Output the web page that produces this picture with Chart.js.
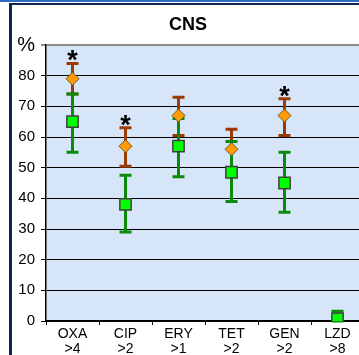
<!DOCTYPE html>
<html>
<head>
<meta charset="utf-8">
<script src="https://cdn.jsdelivr.net/npm/chart.js@4.4.1/dist/chart.umd.min.js"></script>
<style>
  html, body { margin: 0; padding: 0; width: 359px; height: 355px; overflow: hidden; background: #fff; }
  #frame { position: absolute; left: 0; top: 0; width: 359px; height: 355px; overflow: hidden; }
  #topBlue { position: absolute; left: 0; top: 0; width: 359px; height: 2px; background: #2f6cc0; }
  #topDark { position: absolute; left: 9px; top: 3px; width: 350px; height: 2px; background: #0d2450; }
  #leftDark { position: absolute; left: 9px; top: 3px; width: 3px; height: 352px; background: #0d2450; }
  #wrap { position: absolute; left: 12px; top: 5px; width: 352px; height: 350px; }
</style>
</head>
<body>
<div id="frame">
  <div id="topBlue"></div>
  <div id="topDark"></div>
  <div id="leftDark"></div>
  <div id="wrap"><canvas id="chart" width="352" height="350"></canvas></div>
</div>
<script>
// categories (antibiotic + breakpoint)
const categories = [['OXA', '>4'], ['CIP', '>2'], ['ERY', '>1'], ['TET', '>2'], ['GEN', '>2'], ['LZD', '>8']];

// orange diamonds with brown error bars
const orangeValues = [79, 57, 67, 56, 67, null];
const orangeLower = [74, 50.5, 60.5, 50, 60.5, null];
const orangeUpper = [84, 63, 73, 62.5, 72.5, null];

// green squares with green error bars
const greenValues = [65, 38, 57, 48.5, 45, 0.8];
const greenLower = [55, 29, 47, 39, 35.5, 0];
const greenUpper = [74, 47.5, 66, 58.5, 55, 3.2];

// asterisk above the orange bar
const significant = [true, true, false, false, true, false];

// y axis
const yMin = 0, yMax = 90, yStep = 10;
const yTopLabel = '%';

const FONT = "'Liberation Sans', Arial, sans-serif";

const plotBackground = {
  id: 'plotBackground',
  beforeDraw(chart) {
    const { ctx, chartArea: a } = chart;
    ctx.save();
    ctx.fillStyle = '#d6e5f8';
    ctx.fillRect(a.left, a.top, a.right - a.left, a.bottom - a.top);
    ctx.restore();
  }
};

const errorBars = {
  id: 'errorBars',
  beforeDatasetsDraw(chart) {
    const { ctx } = chart;
    const yScale = chart.scales.y;
    // orange first, green drawn over it
    [0, 1].forEach(idx => {
      const ds = chart.data.datasets[idx];
      const meta = chart.getDatasetMeta(idx);
      ctx.save();
      ctx.strokeStyle = ds.errorColor;
      ctx.lineWidth = 3;
      meta.data.forEach((pt, i) => {
        if (ds.errorLow[i] == null) return;
        const x = pt.x;
        const y1 = yScale.getPixelForValue(ds.errorLow[i]);
        const y2 = yScale.getPixelForValue(ds.errorHigh[i]);
        ctx.beginPath();
        ctx.moveTo(x, y1); ctx.lineTo(x, y2);
        ctx.moveTo(x - 6, y1); ctx.lineTo(x + 6, y1);
        ctx.moveTo(x - 6, y2); ctx.lineTo(x + 6, y2);
        ctx.stroke();
      });
      ctx.restore();
    });
  },
  afterDatasetsDraw(chart) {
    const { ctx } = chart;
    const yScale = chart.scales.y;
    const meta = chart.getDatasetMeta(0);
    ctx.save();
    ctx.fillStyle = '#000';
    ctx.font = 'bold 27px ' + FONT;
    ctx.textAlign = 'center';
    ctx.textBaseline = 'alphabetic';
    significant.forEach((s, i) => {
      if (!s) return;
      const x = meta.data[i].x;
      const y = yScale.getPixelForValue(orangeUpper[i]);
      ctx.fillText('*', x, y + 6);
    });
    ctx.restore();
  }
};

new Chart(document.getElementById('chart'), {
  type: 'line',
  data: {
    labels: categories,
    datasets: [
      {
        data: orangeValues,
        errorLow: orangeLower,
        errorHigh: orangeUpper,
        errorColor: '#9c3a06',
        showLine: false,
        pointStyle: 'rectRot',
        pointRadius: 6.5,
        pointBackgroundColor: '#ff9a00',
        pointBorderColor: '#6b5a3a',
        pointBorderWidth: 1
      },
      {
        data: greenValues,
        errorLow: greenLower,
        errorHigh: greenUpper,
        errorColor: '#0a8a0a',
        showLine: false,
        pointStyle: 'rect',
        pointRadius: 8,
        pointBackgroundColor: '#00ff00',
        pointBorderColor: '#404040',
        pointBorderWidth: 1.5
      }
    ]
  },
  options: {
    responsive: false,
    animation: false,
    layout: { padding: 0, autoPadding: false },
    plugins: {
      legend: { display: false },
      tooltip: { enabled: false },
      title: {
        display: true,
        text: 'CNS',
        color: '#000',
        font: { family: FONT, size: 18, weight: 'bold' },
        padding: { top: 9, bottom: 9.4 }
      }
    },
    scales: {
      x: {
        offset: true,
        border: { color: '#000', width: 1.5 },
        grid: { offset: true, drawOnChartArea: false, drawTicks: true, tickLength: 4, color: '#000' },
        ticks: { color: '#000', padding: 2, maxRotation: 0, autoSkip: false, font: { family: FONT, size: 14, lineHeight: 1.05 } },
        afterFit(scale) { scale.height = 34; }
      },
      y: {
        min: yMin,
        max: yMax,
        border: { color: '#000', width: 1.5 },
        grid: {
          color: ctx => ctx.tick && ctx.tick.value === yMax ? '#8a8a8a' : '#000',
          lineWidth: ctx => ctx.tick && ctx.tick.value === yMax ? 2 : 1,
          tickLength: 5,
          drawTicks: true
        },
        ticks: {
          stepSize: yStep,
          color: '#000',
          padding: 6,
          font: ctx => ({ family: FONT, size: ctx.tick && ctx.tick.value === yMax ? 20 : 15 }),
          callback: v => v === yMax ? yTopLabel : v
        },
        afterFit(scale) { scale.width = 34; }
      }
    }
  },
  plugins: [plotBackground, errorBars]
});
</script>
</body>
</html>
